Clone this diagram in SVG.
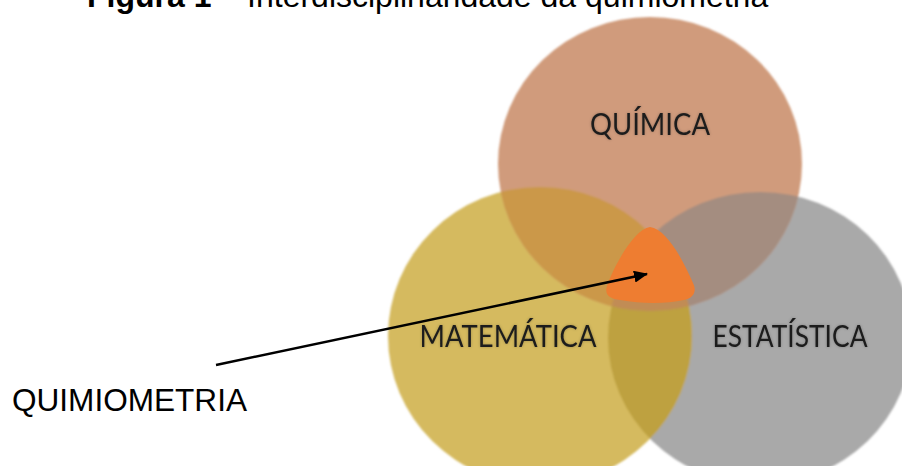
<svg xmlns="http://www.w3.org/2000/svg" width="902" height="466" viewBox="0 0 902 466">
  <style>
    .title { font-family: "Liberation Sans", Arial, sans-serif; font-size: 32px; fill: #000; }
    .lbl { font-family: Lato, "Open Sans", "Liberation Sans", sans-serif; font-size: 30px; fill: #1c1c1c; text-anchor: middle; }
    .big { font-family: "Liberation Sans", Arial, sans-serif; font-size: 31px; fill: #000; }
    .conn { stroke: #000; stroke-width: 2.5; fill: none; }
  </style>
  <defs>
    <clipPath id="cq"><ellipse cx="650" cy="164" rx="152" ry="147"/></clipPath>
    <clipPath id="cm"><ellipse cx="540" cy="336" rx="152" ry="149"/></clipPath>
    <filter id="soft" x="-5%" y="-5%" width="110%" height="110%">
      <feGaussianBlur stdDeviation="1"/>
    </filter>
    <filter id="glow" x="-10%" y="-30%" width="120%" height="160%">
      <feGaussianBlur in="SourceAlpha" stdDeviation="1.5" result="b"/>
      <feFlood flood-color="#000" flood-opacity="0.25"/>
      <feComposite in2="b" operator="in" result="s"/>
      <feMerge><feMergeNode in="s"/><feMergeNode in="SourceGraphic"/></feMerge>
    </filter>
    <marker id="arrow" viewBox="0 0 14 12" refX="13" refY="6" markerWidth="14" markerHeight="12" markerUnits="userSpaceOnUse" orient="auto">
      <path d="M0,0 L14,6 L0,12 Z" fill="#000"/>
    </marker>
  </defs>
  <rect width="902" height="466" fill="#fff"/>
  <text class="title" x="87" y="7"><tspan font-weight="bold">Figura 1</tspan> – Interdisciplinaridade da quimiometria</text>

  <g filter="url(#soft)">
    <g id="estatistica">
      <ellipse cx="760" cy="338" rx="152" ry="146" fill="#A9A9A9"/>
    </g>
    <g id="matematica">
      <ellipse cx="540" cy="336" rx="152" ry="149" fill="#D5BA5E"/>
    </g>
    <g id="quimica">
      <ellipse cx="650" cy="164" rx="152" ry="147" fill="#D09B7B"/>
    </g>
    <g id="overlaps">
      <ellipse cx="540" cy="336" rx="152" ry="149" fill="#CB984A" clip-path="url(#cq)"/>
      <ellipse cx="760" cy="338" rx="152" ry="146" fill="#A48D80" clip-path="url(#cq)"/>
      <ellipse cx="760" cy="338" rx="152" ry="146" fill="#BEA141" clip-path="url(#cm)"/>
      <g clip-path="url(#cq)"><ellipse cx="760" cy="338" rx="152" ry="146" fill="#C18C55" clip-path="url(#cm)"/></g>
    </g>
  </g>
  <g id="quimiometria-region">
    <path d="M650,227 C634,229 614,266 607,286 C604,295 610,299 620,300 C642,304 666,304 684,300 C694,298 697,291 693,283 C684,262 667,229 650,227 Z" fill="#EE7D31"/>
  </g>
  <g id="labels" filter="url(#glow)">
    <text class="lbl" x="650" y="135" textLength="120" lengthAdjust="spacingAndGlyphs">QUÍMICA</text>
    <text class="lbl" x="508" y="347" textLength="177" lengthAdjust="spacingAndGlyphs">MATEMÁTICA</text>
    <text class="lbl" x="790" y="347" textLength="155" lengthAdjust="spacingAndGlyphs">ESTATÍSTICA</text>
  </g>
  <g id="quimiometria-label">
    <text class="big" x="12" y="411" textLength="235" lengthAdjust="spacingAndGlyphs">QUIMIOMETRIA</text>
  </g>
  <g id="connectors">
    <line class="conn" x1="216" y1="365" x2="647" y2="274" marker-end="url(#arrow)"/>
  </g>
</svg>
